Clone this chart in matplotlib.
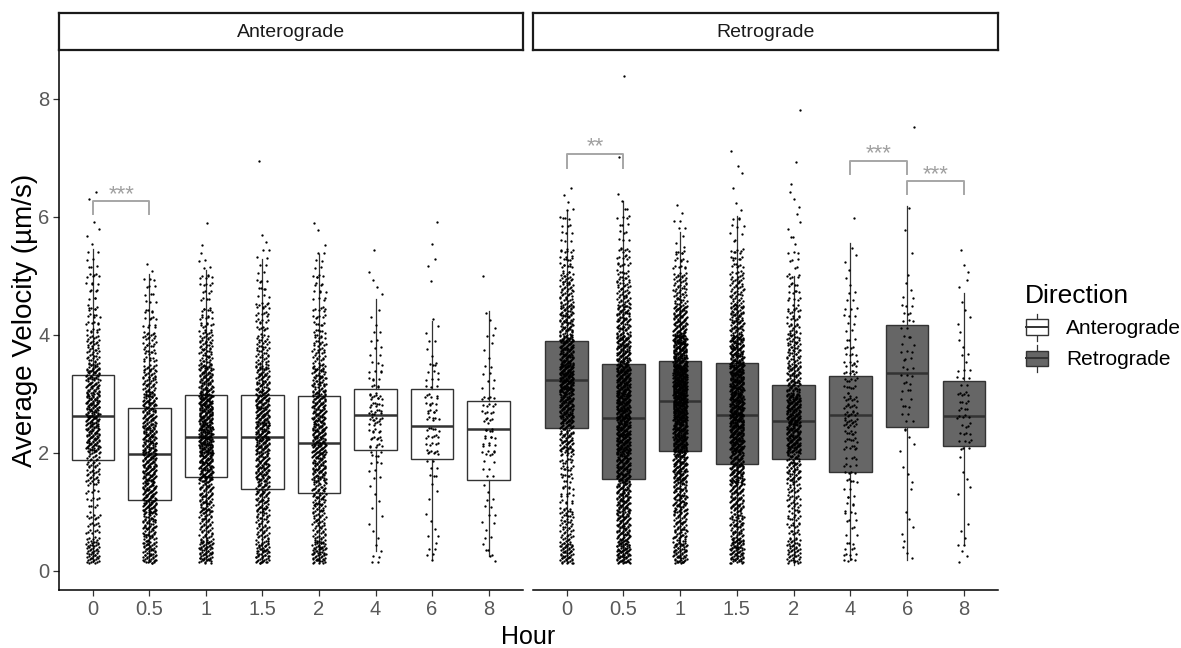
import numpy as np
import matplotlib
matplotlib.use("Agg")
import matplotlib.pyplot as plt
import matplotlib.patches as mpatches
from matplotlib.legend_handler import HandlerBase
from matplotlib.lines import Line2D

plt.rcParams["font.family"] = ["Liberation Sans", "DejaVu Sans"]

# ========= DATA =========
HOURS = ["0", "0.5", "1", "1.5", "2", "4", "6", "8"]
PANELS = ["Anterograde", "Retrograde"]

# box statistics per hour
ANTERO_Q1 = [1.87, 1.19, 1.58, 1.38, 1.32, 2.05, 1.90, 1.54]
ANTERO_MED = [2.62, 1.97, 2.27, 2.27, 2.17, 2.64, 2.46, 2.40]
ANTERO_Q3 = [3.32, 2.76, 2.98, 2.98, 2.96, 3.08, 3.08, 2.88]
ANTERO_WLO = [0.15, 0.15, 0.17, 0.15, 0.15, 0.34, 0.20, 0.25]
ANTERO_WHI = [5.45, 5.03, 5.10, 5.28, 5.37, 4.60, 4.23, 4.40]

RETRO_Q1 = [2.42, 1.56, 2.02, 1.80, 1.90, 1.68, 2.44, 2.11]
RETRO_MED = [3.24, 2.58, 2.87, 2.64, 2.53, 2.64, 3.35, 2.62]
RETRO_Q3 = [3.90, 3.50, 3.56, 3.52, 3.14, 3.30, 4.16, 3.22]
RETRO_WLO = [0.15, 0.22, 0.15, 0.20, 0.10, 0.18, 0.18, 0.45]
RETRO_WHI = [6.10, 6.27, 5.74, 6.02, 5.00, 5.56, 6.19, 4.70]

# jittered cells: number of cells per velocity bin, per hour (estimated)
BIN_EDGES = [0.12, 0.5, 1.0, 1.5, 2.0, 2.5, 3.0, 3.5, 4.0, 4.5,
             5.0, 5.5, 6.0, 6.5, 7.0, 7.5, 8.0, 8.5]
ANTERO_COUNTS = [
    [50, 30, 18, 45, 100, 105, 85, 45, 25, 15, 10, 4, 2],
    [60, 75, 105, 110, 110, 90, 60, 35, 20, 12, 2],
    [65, 55, 75, 130, 165, 150, 95, 55, 30, 18, 6, 2],
    [60, 50, 70, 100, 120, 115, 75, 45, 28, 15, 8, 2, 0, 1],
    [65, 50, 65, 95, 110, 100, 70, 40, 25, 15, 8, 3],
    [6, 4, 4, 10, 25, 35, 15, 8, 5, 3, 2],
    [6, 5, 3, 10, 22, 22, 12, 6, 3, 1, 2, 2],
    [6, 7, 6, 9, 20, 20, 8, 5, 3, 1],
]
RETRO_COUNTS = [
    [60, 45, 25, 35, 80, 140, 175, 130, 80, 55, 30, 12, 6],
    [85, 95, 105, 140, 170, 175, 165, 125, 80, 50, 28, 12, 5, 0, 1, 0, 1],
    [65, 65, 85, 120, 190, 230, 250, 170, 95, 50, 25, 6, 2],
    [75, 70, 85, 120, 175, 190, 180, 130, 80, 50, 28, 10, 3, 2, 1],
    [45, 35, 40, 70, 140, 150, 80, 55, 35, 20, 10, 5, 4, 2, 0, 1],
    [14, 10, 10, 16, 28, 35, 25, 15, 10, 6, 4, 1],
    [4, 3, 2, 3, 5, 9, 12, 11, 10, 5, 2, 1, 1, 0, 0, 1],
    [5, 3, 2, 3, 14, 18, 10, 5, 4, 3, 3],
]

# significance brackets: (panel, hour index a, hour index b, top y, leg y, label)
SIG_PANEL = [0, 1, 1, 1]
SIG_A = [0, 0, 5, 6]
SIG_B = [1, 1, 6, 7]
SIG_TOP = [6.27, 7.07, 6.95, 6.61]
SIG_LEG = [6.05, 6.83, 6.72, 6.38]
SIG_LABEL = ["***", "**", "***", "***"]

FILLS = ["white", "#666666"]
EDGE = "#333333"
JITTER = 0.12
# ==================================================

W, H = 1181, 648
fig = plt.figure(figsize=(W / 100, H / 100), dpi=100)

def fx(px):
    return px / W

def fy(py):
    return 1 - py / H

panel_x = [(59, 522.5), (532.5, 998)]
top_px, bot_px, strip_top = 50, 590, 13

# deterministic low-discrepancy jitter (no random numbers)
g = 1.32471795724474602596
a1 = 1 / g

def vdc(n, base=2):
    # van der Corput radical inverse
    q, d = 0.0, 1.0
    while n:
        d *= base
        n, r = divmod(n, base)
        q += r / d
    return q

q1s = [ANTERO_Q1, RETRO_Q1]
meds = [ANTERO_MED, RETRO_MED]
q3s = [ANTERO_Q3, RETRO_Q3]
wlos = [ANTERO_WLO, RETRO_WLO]
whis = [ANTERO_WHI, RETRO_WHI]
counts = [ANTERO_COUNTS, RETRO_COUNTS]

axes = []
k = 0
for p in range(2):
    x0, x1 = panel_x[p]
    ax = fig.add_axes([fx(x0), fy(bot_px), fx(x1 - x0), (bot_px - top_px) / H])
    axes.append(ax)

    stats = []
    for i in range(len(HOURS)):
        stats.append(dict(med=meds[p][i], q1=q1s[p][i], q3=q3s[p][i],
                          whislo=wlos[p][i], whishi=whis[p][i]))
    ax.bxp(stats, positions=range(len(HOURS)), widths=0.75, patch_artist=True,
           showfliers=False, showcaps=False,
           boxprops=dict(facecolor=FILLS[p], edgecolor=EDGE, linewidth=1.0),
           medianprops=dict(color=EDGE, linewidth=1.8),
           whiskerprops=dict(color=EDGE, linewidth=0.9), manage_ticks=False)

    xs, ys = [], []
    for i, row in enumerate(counts[p]):
        for b, n in enumerate(row):
            lo, hi = BIN_EDGES[b], BIN_EDGES[b + 1]
            for _ in range(n):
                k += 1
                u = vdc(k, 3)
                v = (0.5 + a1 * k) % 1.0
                xs.append(i + (u - 0.5) * 2 * JITTER)
                ys.append(lo + v * (hi - lo))
    ax.scatter(xs, ys, s=2.8, c="black", linewidths=0, zorder=3)

    ax.set_xlim(-0.6, len(HOURS) - 0.4)
    ax.set_ylim(-0.33, 8.83)
    ax.set_xticks(range(len(HOURS)))
    ax.set_xticklabels(HOURS)
    ax.set_yticks([0, 2, 4, 6, 8])
    for s in ["top", "right"]:
        ax.spines[s].set_visible(False)
    ax.spines["bottom"].set_linewidth(1.1)
    ax.spines["left"].set_linewidth(1.1)
    ax.tick_params(axis="both", length=4, width=0.9, color="#333333",
                   labelsize=14.5, labelcolor="#595959", pad=3)
    if p == 1:
        ax.spines["left"].set_visible(False)
        ax.tick_params(axis="y", left=False, labelleft=False)

    # strip
    sax = fig.add_axes([fx(x0), fy(top_px), fx(x1 - x0), (top_px - strip_top) / H])
    sax.set_xticks([])
    sax.set_yticks([])
    sax.set_facecolor("white")
    for s in sax.spines.values():
        s.set_linewidth(1.6)
        s.set_color("#1A1A1A")
    sax.text(0.5, 0.47, PANELS[p], ha="center", va="center", fontsize=14,
             color="#1A1A1A", transform=sax.transAxes)

# significance brackets
for j in range(len(SIG_LABEL)):
    ax = axes[SIG_PANEL[j]]
    a, b = SIG_A[j], SIG_B[j]
    ax.plot([a, a, b, b], [SIG_LEG[j], SIG_TOP[j], SIG_TOP[j], SIG_LEG[j]],
            color="#A6A6A6", linewidth=1.4, zorder=4)
    ax.text((a + b) / 2, SIG_TOP[j] + 0.02, SIG_LABEL[j], ha="center",
            va="baseline", fontsize=16, color="#A0A0A0", zorder=4)

fig.text(fx(528.5), fy(637), "Hour", ha="center", va="center", fontsize=18)
fig.text(fx(25), fy(320), "Average Velocity (\u00b5m/s)", ha="center",
         va="center", rotation=90, fontsize=20)


class BoxKey(HandlerBase):
    def create_artists(self, legend, orig_handle, xdescent, ydescent,
                       width, height, fontsize, trans):
        cx = width / 2 - xdescent
        x0 = cx - width * 0.45
        bw = width * 0.9
        y0 = -ydescent + height * 0.15
        bh = height * 0.7
        rect = mpatches.Rectangle((x0, y0), bw, bh,
                                  facecolor=orig_handle.get_facecolor(),
                                  edgecolor=EDGE, linewidth=1.0, transform=trans)
        wl = Line2D([cx, cx], [-ydescent - height * 0.1, y0], color=EDGE,
                    linewidth=0.9, transform=trans)
        wh = Line2D([cx, cx], [y0 + bh, -ydescent + height * 1.1], color=EDGE,
                    linewidth=0.9, transform=trans)
        md = Line2D([x0, x0 + bw], [y0 + bh / 2] * 2, color=EDGE,
                    linewidth=1.4, transform=trans)
        return [wl, wh, rect, md]


handles = [mpatches.Patch(facecolor=FILLS[p]) for p in range(2)]
leg = fig.legend(handles, PANELS, title="Direction", loc="upper left",
                 bbox_to_anchor=(fx(1006), fy(265)), frameon=False,
                 fontsize=15, title_fontsize=19, handlelength=1.2,
                 handleheight=1.3, handletextpad=0.8, labelspacing=0.4,
                 handler_map={mpatches.Patch: BoxKey()}, alignment="left")

fig.savefig("out.png", dpi=100)
